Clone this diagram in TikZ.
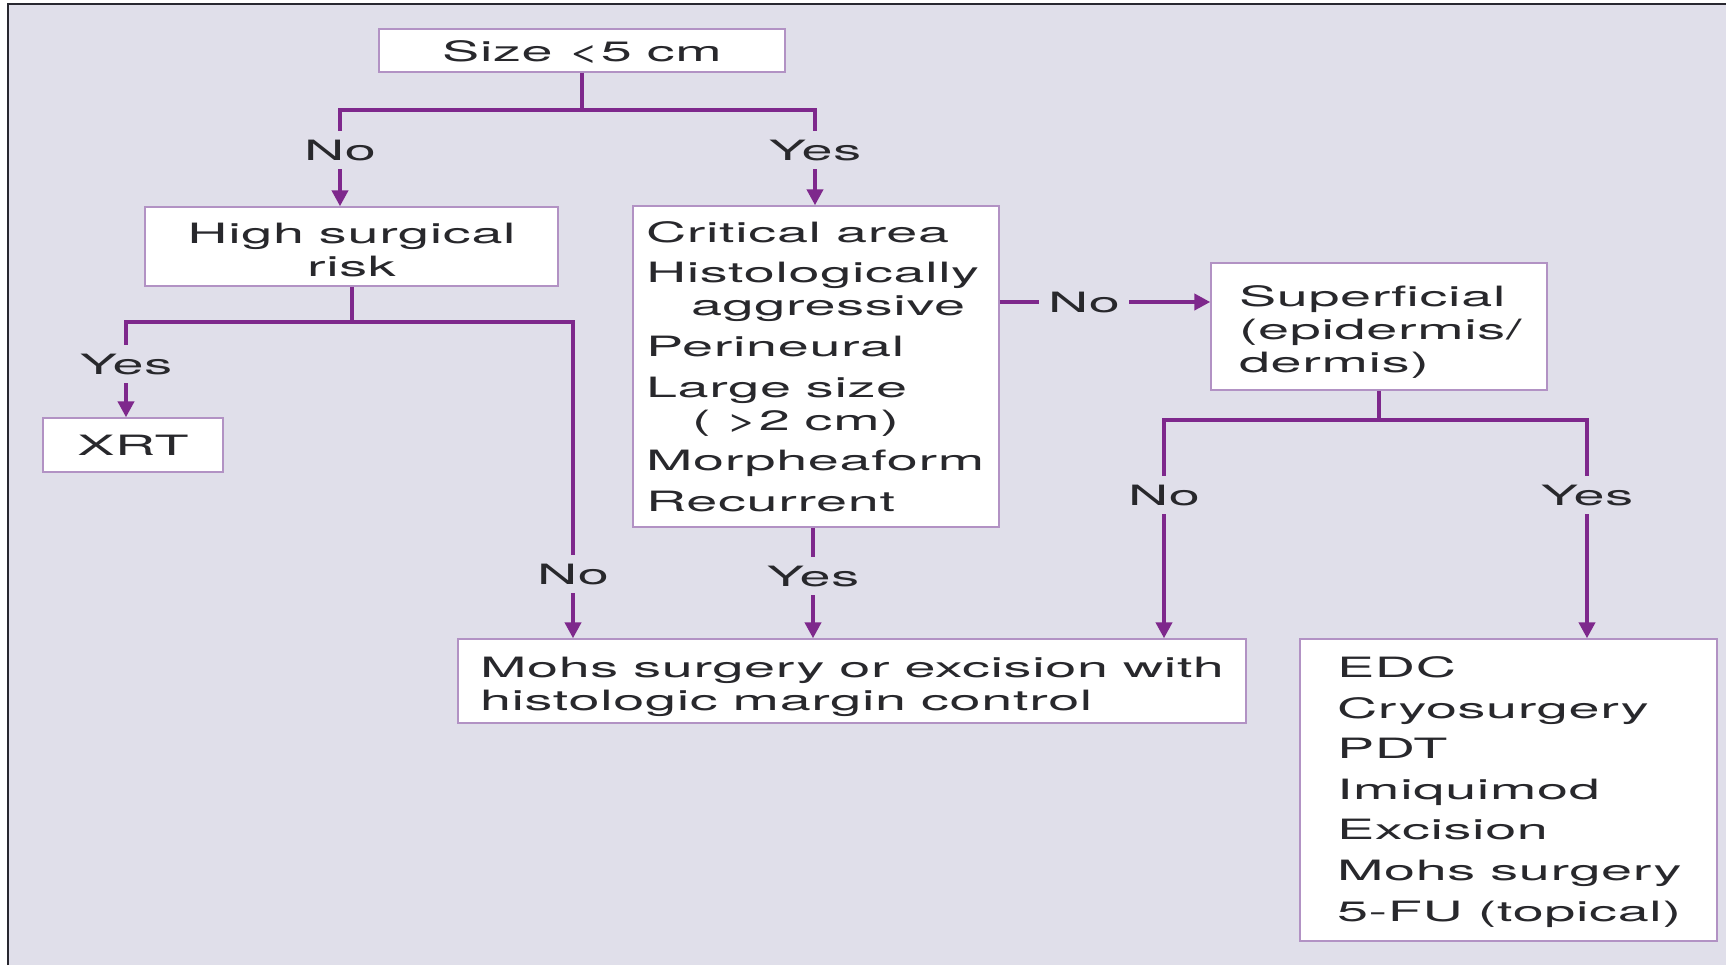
\documentclass[tikz,border=0pt]{standalone}
\usepackage{fontspec}
\setmainfont[FakeStretch=1.99, LetterSpace=2.5]{TeX Gyre Heros}
\usetikzlibrary{arrows.meta}
\definecolor{purp}{RGB}{126,40,140}
\definecolor{edge}{RGB}{178,146,196}
\definecolor{bg}{RGB}{224,223,234}
\definecolor{ink}{RGB}{40,40,44}
\definecolor{frameclr}{RGB}{40,40,48}

\begin{document}
\begin{tikzpicture}[x=0.5pt, y=-0.5pt,
  every node/.style={font=\fontsize{14}{16.5}\selectfont, text=ink,
    execute at begin node={\spaceskip=7.5pt\relax}},
  box/.style={draw=edge, line width=0.7pt, fill=white, inner sep=0pt, align=center},
  listbox/.style={box, align=left},
  lbl/.style={inner xsep=4.5pt, inner ysep=4.5pt, text height=10pt, text depth=0pt},
  link/.style={draw=purp, line width=2pt},
  arr/.style={link, -{Triangle[length=8pt,width=8pt]}}]

%---------------------------------------
% Background and frame
%---------------------------------------
\useasboundingbox (0,0) rectangle (1726,965);
\fill[white] (0,0) rectangle (1726,965);
\fill[bg] (8,4) rectangle (1726,965);
\draw[frameclr, line width=1.2pt] (8,965) -- (8,4) -- (1726,4);

%---------------------------------------
% Boxes
%---------------------------------------
\node[box, minimum width=203pt, minimum height=21.5pt, text height=11.2pt, text depth=0pt]
  (size) at (582,50.5) {Size <5 cm};
\node[box, text width=206.5pt, minimum height=39.5pt] (risk) at (351.5,246.5)
  {\rule{0pt}{14pt}High surgical\\risk};
\node[box, minimum width=90pt, minimum height=27pt, text height=10pt, text depth=0pt]
  (xrt) at (133,445) {XRT};

\node[listbox, text width=170pt, inner xsep=6.5pt, minimum height=160.5pt] (crit) at (816,366.5)
  {Critical area\\[3.8pt]
   Histologically\\
   \hspace*{22.5pt}aggressive\\[3.8pt]
   Perineural\\[3.8pt]
   Large size\\
   \hspace*{23pt}( >2 cm)\\[3.8pt]
   Morpheaform\\[3.8pt]
   Recurrent};

\node[listbox, text width=140pt, inner xsep=14pt, minimum height=63.5pt] (sup) at (1379,326.5)
  {\rule{0pt}{15.8pt}Superficial\\(epidermis/\\dermis)};

\node[listbox, text width=372pt, inner xsep=11pt, minimum height=42pt] (mohs) at (852,681)
  {\rule{0pt}{15.6pt}Mohs surgery or excision with\\histologic margin control};

\node[listbox, text width=171.5pt, inner xsep=18.5pt, minimum height=151pt] (opts) at (1508.5,790)
  {\rule{0pt}{12.4pt}EDC\\[3.8pt]
   Cryosurgery\\[3.8pt]
   PDT\\[3.8pt]
   Imiquimod\\[3.8pt]
   Excision\\[3.8pt]
   Mohs~surgery\\[3.8pt]
   5-FU~(topical)};

%---------------------------------------
% Branch labels
%---------------------------------------
\node[lbl] (noRisk)  at (340,150)  {No};
\node[lbl] (yesCrit) at (815,150)  {Yes};
\node[lbl] (yesXrt)  at (126,364)  {Yes};
\node[lbl] (noMohs)  at (573,574)  {No};
\node[lbl] (yesMohs) at (813,576)  {Yes};
\node[lbl] (noSup)   at (1084,302) {No};
\node[lbl] (noDeep)  at (1164,495) {No};
\node[lbl] (yesTop)  at (1587,495) {Yes};

%---------------------------------------
% Connectors
%---------------------------------------
% size split
\draw[link] (size.south) -- (size.south |- 0,110);
\draw[link] (noRisk.north) |- (size.south |- 0,110) -| (yesCrit.north);
\draw[arr] (noRisk.south) -- (noRisk |- risk.north);
\draw[arr] (yesCrit.south) -- (yesCrit |- crit.north);

% surgical risk split
\draw[link] (risk.south) -- (risk.south |- 0,322);
\draw[link] (yesXrt.north) |- (risk.south |- 0,322) -| (noMohs.north);
\draw[arr] (yesXrt.south) -- (yesXrt |- xrt.north);
\draw[arr] (noMohs.south) -- (noMohs |- mohs.north);

% critical features
\draw[link] (yesMohs |- crit.south) -- (yesMohs.north);
\draw[arr] (yesMohs.south) -- (yesMohs |- mohs.north);
\draw[link] (crit.east |- noSup) -- (noSup.west);
\draw[arr] (noSup.east) -- (sup.west |- noSup);

% superficial split
\draw[link] (sup.south) -- (sup.south |- 0,420);
\draw[link] (noDeep.north) |- (sup.south |- 0,420) -| (yesTop.north);
\draw[arr] (noDeep.south) -- (noDeep |- mohs.north);
\draw[arr] (yesTop.south) -- (yesTop |- opts.north);

\end{tikzpicture}
\end{document}
